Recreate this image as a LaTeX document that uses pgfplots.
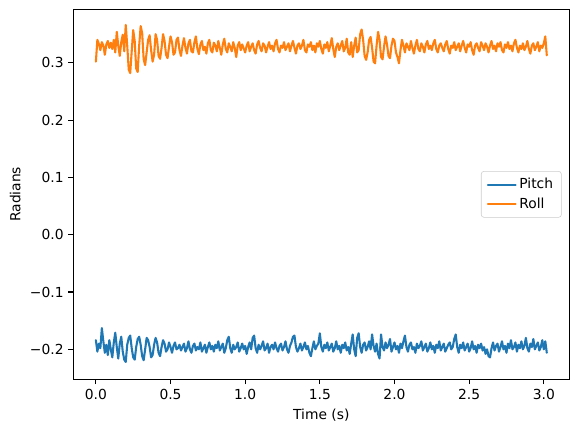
\documentclass[border=0pt]{standalone}
\usepackage{fontspec}
\setmainfont{DejaVu Sans}
\usepackage{pgfplots}
\usepackage{pgfplotstable}
\pgfplotsset{compat=1.18}
\definecolor{C0}{HTML}{1F77B4}
\definecolor{C1}{HTML}{FF7F0E}
\definecolor{legborder}{HTML}{CCCCCC}
\pgfplotstableread{
t pitch roll
0.00 -0.184 0.302
0.01 -0.204 0.340
0.02 -0.190 0.333
0.03 -0.198 0.322
0.04 -0.163 0.336
0.05 -0.186 0.330
0.06 -0.206 0.314
0.07 -0.192 0.332
0.08 -0.210 0.338
0.09 -0.184 0.326
0.10 -0.200 0.335
0.11 -0.214 0.324
0.12 -0.188 0.340
0.13 -0.171 0.318
0.14 -0.196 0.354
0.15 -0.216 0.330
0.16 -0.190 0.312
0.17 -0.178 0.336
0.18 -0.204 0.349
0.19 -0.218 0.320
0.20 -0.222 0.366
0.21 -0.192 0.330
0.22 -0.180 0.288
0.23 -0.176 0.282
0.24 -0.198 0.320
0.25 -0.214 0.357
0.26 -0.218 0.338
0.27 -0.196 0.290
0.28 -0.182 0.284
0.29 -0.178 0.330
0.30 -0.192 0.364
0.31 -0.212 0.352
0.32 -0.219 0.306
0.33 -0.200 0.296
0.34 -0.180 0.318
0.35 -0.184 0.340
0.36 -0.196 0.348
0.37 -0.214 0.322
0.38 -0.210 0.302
0.39 -0.192 0.314
0.40 -0.180 0.350
0.41 -0.188 0.340
0.42 -0.206 0.312
0.43 -0.212 0.307
0.44 -0.196 0.326
0.45 -0.184 0.350
0.46 -0.190 0.338
0.47 -0.204 0.314
0.48 -0.200 0.308
0.49 -0.188 0.328
0.50 -0.196 0.346
0.51 -0.206 0.336
0.52 -0.194 0.314
0.53 -0.188 0.318
0.54 -0.200 0.340
0.55 -0.198 0.344
0.56 -0.192 0.322
0.57 -0.202 0.312
0.58 -0.196 0.330
0.59 -0.190 0.343
0.60 -0.204 0.326
0.61 -0.198 0.316
0.62 -0.186 0.334
0.63 -0.200 0.340
0.64 -0.206 0.320
0.65 -0.194 0.318
0.66 -0.190 0.336
0.67 -0.202 0.346
0.68 -0.196 0.324
0.69 -0.200 0.315
0.70 -0.188 0.332
0.71 -0.204 0.338
0.72 -0.198 0.322
0.73 -0.192 0.328
0.74 -0.206 0.316
0.75 -0.196 0.334
0.76 -0.188 0.340
0.77 -0.200 0.322
0.78 -0.194 0.318
0.79 -0.204 0.335
0.80 -0.192 0.330
0.81 -0.198 0.320
0.82 -0.186 0.338
0.83 -0.202 0.326
0.84 -0.196 0.314
0.85 -0.190 0.332
0.86 -0.206 0.342
0.87 -0.198 0.324
0.88 -0.184 0.318
0.89 -0.178 0.334
0.90 -0.198 0.328
0.91 -0.206 0.320
0.92 -0.192 0.336
0.93 -0.200 0.326
0.94 -0.196 0.310
0.95 -0.188 0.330
0.96 -0.204 0.336
0.97 -0.198 0.322
0.98 -0.190 0.332
0.99 -0.200 0.325
1.00 -0.194 0.318
1.01 -0.208 0.330
1.02 -0.196 0.336
1.03 -0.188 0.320
1.04 -0.200 0.328
1.05 -0.180 0.334
1.06 -0.176 0.322
1.07 -0.198 0.316
1.08 -0.206 0.332
1.09 -0.192 0.338
1.10 -0.200 0.326
1.11 -0.194 0.320
1.12 -0.186 0.334
1.13 -0.202 0.330
1.14 -0.198 0.318
1.15 -0.190 0.328
1.16 -0.206 0.336
1.17 -0.196 0.324
1.18 -0.192 0.330
1.19 -0.200 0.320
1.20 -0.188 0.334
1.21 -0.198 0.340
1.22 -0.204 0.324
1.23 -0.194 0.318
1.24 -0.190 0.330
1.25 -0.202 0.326
1.26 -0.196 0.336
1.27 -0.186 0.322
1.28 -0.200 0.328
1.29 -0.206 0.334
1.30 -0.194 0.320
1.31 -0.188 0.330
1.32 -0.178 0.338
1.33 -0.176 0.326
1.34 -0.196 0.316
1.35 -0.204 0.330
1.36 -0.198 0.334
1.37 -0.190 0.324
1.38 -0.202 0.330
1.39 -0.196 0.340
1.40 -0.188 0.322
1.41 -0.200 0.318
1.42 -0.194 0.332
1.43 -0.206 0.328
1.44 -0.212 0.336
1.45 -0.198 0.322
1.46 -0.186 0.330
1.47 -0.200 0.318
1.48 -0.194 0.334
1.49 -0.190 0.328
1.50 -0.172 0.338
1.51 -0.196 0.324
1.52 -0.204 0.316
1.53 -0.192 0.332
1.54 -0.198 0.326
1.55 -0.188 0.336
1.56 -0.202 0.320
1.57 -0.196 0.330
1.58 -0.190 0.343
1.59 -0.204 0.324
1.60 -0.198 0.310
1.61 -0.186 0.328
1.62 -0.200 0.334
1.63 -0.194 0.322
1.64 -0.206 0.330
1.65 -0.192 0.338
1.66 -0.198 0.320
1.67 -0.188 0.326
1.68 -0.202 0.342
1.69 -0.196 0.318
1.70 -0.208 0.314
1.71 -0.190 0.336
1.72 -0.174 0.310
1.73 -0.200 0.330
1.74 -0.212 0.344
1.75 -0.180 0.318
1.76 -0.172 0.322
1.77 -0.196 0.350
1.78 -0.206 0.358
1.79 -0.192 0.340
1.80 -0.188 0.312
1.81 -0.202 0.305
1.82 -0.196 0.318
1.83 -0.186 0.340
1.84 -0.200 0.345
1.85 -0.174 0.326
1.86 -0.194 0.302
1.87 -0.204 0.299
1.88 -0.190 0.330
1.89 -0.208 0.354
1.90 -0.216 0.340
1.91 -0.174 0.310
1.92 -0.196 0.306
1.93 -0.202 0.328
1.94 -0.188 0.346
1.95 -0.198 0.332
1.96 -0.192 0.312
1.97 -0.182 0.308
1.98 -0.204 0.330
1.99 -0.196 0.342
2.00 -0.188 0.338
2.01 -0.200 0.318
2.02 -0.194 0.310
2.03 -0.206 0.299
2.04 -0.190 0.322
2.05 -0.198 0.340
2.06 -0.186 0.330
2.07 -0.176 0.318
2.08 -0.196 0.334
2.09 -0.204 0.328
2.10 -0.192 0.322
2.11 -0.188 0.338
2.12 -0.200 0.326
2.13 -0.196 0.316
2.14 -0.206 0.330
2.15 -0.190 0.340
2.16 -0.198 0.324
2.17 -0.194 0.320
2.18 -0.186 0.334
2.19 -0.202 0.328
2.20 -0.196 0.318
2.21 -0.190 0.332
2.22 -0.204 0.338
2.23 -0.198 0.324
2.24 -0.188 0.330
2.25 -0.200 0.322
2.26 -0.194 0.334
2.27 -0.206 0.340
2.28 -0.192 0.324
2.29 -0.198 0.318
2.30 -0.186 0.330
2.31 -0.202 0.334
2.32 -0.196 0.326
2.33 -0.190 0.320
2.34 -0.204 0.332
2.35 -0.198 0.338
2.36 -0.192 0.324
2.37 -0.188 0.316
2.38 -0.200 0.330
2.39 -0.196 0.326
2.40 -0.182 0.336
2.41 -0.174 0.322
2.42 -0.196 0.328
2.43 -0.206 0.334
2.44 -0.192 0.320
2.45 -0.198 0.330
2.46 -0.188 0.338
2.47 -0.202 0.326
2.48 -0.196 0.318
2.49 -0.190 0.332
2.50 -0.204 0.328
2.51 -0.198 0.336
2.52 -0.186 0.322
2.53 -0.200 0.314
2.54 -0.194 0.330
2.55 -0.206 0.334
2.56 -0.192 0.326
2.57 -0.198 0.320
2.58 -0.190 0.336
2.59 -0.202 0.330
2.60 -0.196 0.322
2.61 -0.208 0.334
2.62 -0.200 0.328
2.63 -0.212 0.318
2.64 -0.214 0.330
2.65 -0.198 0.338
2.66 -0.188 0.324
2.67 -0.202 0.330
2.68 -0.194 0.320
2.69 -0.190 0.334
2.70 -0.204 0.328
2.71 -0.196 0.336
2.72 -0.186 0.322
2.73 -0.200 0.318
2.74 -0.194 0.332
2.75 -0.206 0.326
2.76 -0.190 0.336
2.77 -0.198 0.324
2.78 -0.184 0.330
2.79 -0.200 0.320
2.80 -0.196 0.334
2.81 -0.188 0.340
2.82 -0.204 0.326
2.83 -0.192 0.318
2.84 -0.198 0.330
2.85 -0.186 0.324
2.86 -0.200 0.334
2.87 -0.194 0.322
2.88 -0.180 0.328
2.89 -0.198 0.338
2.90 -0.204 0.324
2.91 -0.190 0.316
2.92 -0.196 0.330
2.93 -0.182 0.334
2.94 -0.200 0.322
2.95 -0.194 0.328
2.96 -0.188 0.336
2.97 -0.202 0.320
2.98 -0.196 0.330
2.99 -0.184 0.326
3.00 -0.200 0.334
3.01 -0.186 0.346
3.02 -0.206 0.313
}\data

\begin{document}
\begin{tikzpicture}
\useasboundingbox (-52.8bp,-37.9bp) rectangle (363.36bp,273.14bp);
\begin{axis}[
  at={(0,0)}, anchor=south west,
  scale only axis,
  width=357.12bp, height=266.4bp,
  xmin=-0.151, xmax=3.171,
  ymin=-0.2524, ymax=0.3932,
  xtick={0,0.5,1,1.5,2,2.5,3},
  xticklabels={0.0,0.5,1.0,1.5,2.0,2.5,3.0},
  ytick={-0.2,-0.1,0,0.1,0.2,0.3},
  yticklabels={−0.2,−0.1,0.0,0.1,0.2,0.3},
  tick align=outside,
  xtick pos=bottom, ytick pos=left,
  major tick length=3.5bp,
  every tick/.style={black, line width=0.8bp},
  axis line style={black, line width=0.8bp},
  tick label style={font=\fontsize{10}{12}\selectfont},
  label style={font=\fontsize{10}{12}\selectfont},
  xlabel={Time (s)},
  ylabel={Radians},
  legend style={
    at={(1,0.5)}, anchor=east, xshift=-5.5bp,
    draw=legborder, rounded corners=2bp, fill=white, fill opacity=0.8, text opacity=1,
    font=\fontsize{10}{12}\selectfont,
    row sep=1bp, inner xsep=4bp, inner ysep=3bp
  },
  legend cell align=left,
  legend image code/.code={\draw[#1, line width=1.5bp] (0bp,0bp) -- (20bp,0bp);},
]
\addplot[C0, line width=1.5bp, line join=round, line cap=round] table[x=t, y=pitch] {\data};
\addlegendentry{Pitch}
\addplot[C1, line width=1.5bp, line join=round, line cap=round] table[x=t, y=roll] {\data};
\addlegendentry{Roll}
\end{axis}
\end{tikzpicture}
\end{document}
